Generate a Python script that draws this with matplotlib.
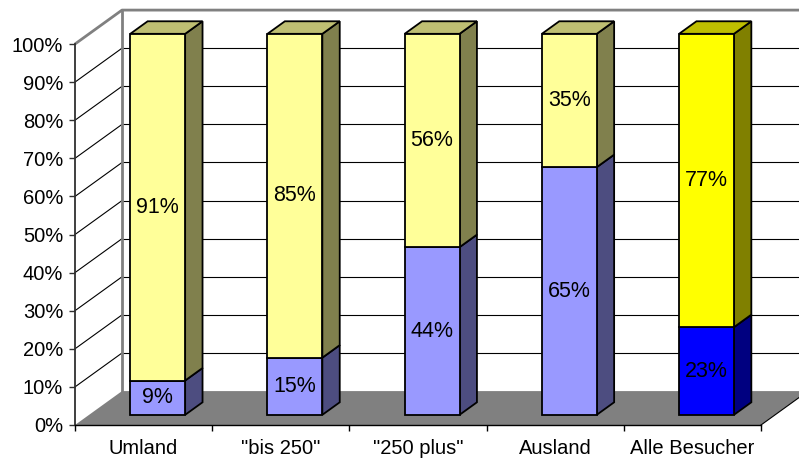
import matplotlib.pyplot as plt
from matplotlib.patches import Polygon
from matplotlib.ticker import FuncFormatter

plt.rcParams['font.family'] = ['Liberation Sans', 'DejaVu Sans']

categories = ['Umland', '"bis 250"', '"250 plus"', 'Ausland', 'Alle Besucher']
lower = [9, 15, 44, 65, 23]
upper = [91, 85, 56, 35, 77]

# front / side / top colours for each bar and segment
lower_cols = [('#9999FF', '#4D4D80', '#7373BF')] * 4 + [('#0000FF', '#000080', '#0000BF')]
upper_cols = [('#FFFF99', '#80804D', '#BFBF73')] * 4 + [('#FFFF00', '#808000', '#BFBF00')]

# depth of the 3d box in data units (categories, percent)
DX = 0.3426
DY = 8.9
Z_FRONT, Z_BACK = 0.30, 0.67
BAR_W = 0.40


def proj(x, y, z):
    return x + z * DX, y + z * DY


def add_poly(ax, pts, color, zorder, lw=1.3, ec='black'):
    ax.add_patch(Polygon(pts, closed=True, facecolor=color, edgecolor=ec,
                         linewidth=lw, joinstyle='miter', zorder=zorder, clip_on=False))


def draw_segment(ax, xc, y0, y1, cols, with_top, zorder):
    front, side, top = cols
    xl, xr = xc - BAR_W / 2, xc + BAR_W / 2
    add_poly(ax, [proj(xr, y0, Z_FRONT), proj(xr, y0, Z_BACK),
                  proj(xr, y1, Z_BACK), proj(xr, y1, Z_FRONT)], side, zorder)
    if with_top:
        add_poly(ax, [proj(xl, y1, Z_FRONT), proj(xl, y1, Z_BACK),
                      proj(xr, y1, Z_BACK), proj(xr, y1, Z_FRONT)], top, zorder)
    add_poly(ax, [proj(xl, y0, Z_FRONT), proj(xr, y0, Z_FRONT),
                  proj(xr, y1, Z_FRONT), proj(xl, y1, Z_FRONT)], front, zorder + 0.1)


fig = plt.figure(figsize=(7.99, 4.59), dpi=100)
ax = fig.add_axes([75 / 799, 34 / 459, 686 / 799, 381 / 459])
n = len(categories)
ax.set_xlim(0, n)
ax.set_ylim(0, 100)

# walls: gridlines on the back wall and diagonals on the side wall
for k in range(10, 100, 10):
    ax.plot([0, DX], [k, k + DY], color='black', lw=0.8, zorder=0.5, clip_on=False)
    ax.plot([DX, n + DX], [k + DY, k + DY], color='black', lw=0.8, zorder=0.5, clip_on=False)
ax.plot([0, DX, n + DX], [100, 100 + DY, 100 + DY], color='#808080', lw=2,
        zorder=0.6, clip_on=False, solid_capstyle='butt')
ax.plot([DX, DX], [DY, 100 + DY], color='#808080', lw=2, zorder=0.6, clip_on=False)

# floor
add_poly(ax, [(0, 0), (n, 0), (n + DX, DY), (DX, DY)], '#808080', 1, lw=0, ec='none')
ax.plot([n, n + DX], [0, DY], color='black', lw=0.8, zorder=1.1, clip_on=False)

for i in range(n):
    xc = i + 0.5
    draw_segment(ax, xc, 0, lower[i], lower_cols[i], False, 2 + i)
    draw_segment(ax, xc, lower[i], lower[i] + upper[i], upper_cols[i], True, 2 + i)
    tx, _ = proj(xc, 0, Z_FRONT)
    for y0, v in [(0, lower[i]), (lower[i], upper[i])]:
        _, ty = proj(xc, y0 + v / 2, Z_FRONT)
        ax.text(tx, ty, f'{v}%', ha='center', va='center', fontsize=15.5,
                color='black', zorder=20)

for s in ['top', 'right']:
    ax.spines[s].set_visible(False)
ax.spines['left'].set_color('#303030')
ax.spines['left'].set_linewidth(1.3)
ax.spines['bottom'].set_linewidth(1.0)
ax.set_facecolor('none')

ax.set_yticks(range(0, 101, 10))
ax.yaxis.set_major_formatter(FuncFormatter(lambda v, p: f'{int(v)}%'))
ax.tick_params(axis='y', length=4.5, width=1, labelsize=14.5, pad=4, color='#303030')
ax.set_xticks(range(n + 1))
ax.set_xticklabels([])
ax.set_xticks([i + 0.5 for i in range(n)], minor=True)
ax.set_xticklabels(categories, minor=True)
ax.tick_params(axis='x', which='major', length=4, width=1, direction='out')
ax.tick_params(axis='x', which='minor', length=0, labelsize=14.5, pad=10)

fig.savefig('out.png', dpi=100)
